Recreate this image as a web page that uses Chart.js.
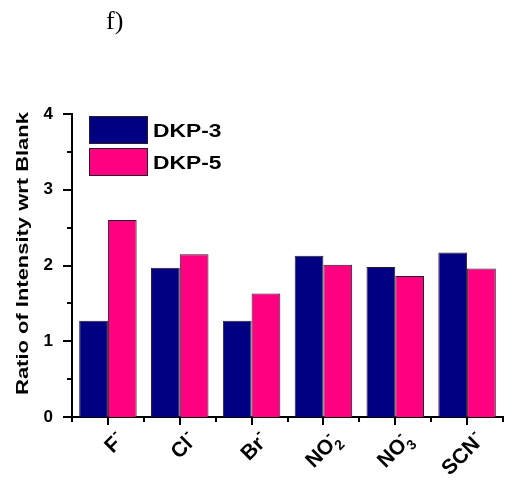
<!DOCTYPE html>
<html>
<head>
<meta charset="utf-8">
<script src="https://cdn.jsdelivr.net/npm/chart.js@4.4.0/dist/chart.umd.min.js"></script>
<style>
  html, body { margin: 0; padding: 0; background: #fff; }
  #wrap { position: relative; width: 508px; height: 480px; }
  #wrap canvas { position: absolute; left: 0; top: 0; }
  #panel { position: absolute; left: 106px; top: 6px; font: 26px "Liberation Serif", "Times New Roman", serif; color: #000; }
</style>
</head>
<body>
<div id="wrap">
  <canvas id="chart" width="508" height="480"></canvas>
  <div id="panel">f)</div>
</div>
<script>
// Anions tested (Unicode sub/superscripts are typeset by the label renderer below)
const categories = ['F⁻', 'Cl⁻', 'Br⁻', 'NO₂⁻', 'NO₃⁻', 'SCN⁻'];
// Intensity ratio relative to the blank
const dkp3 = [1.27, 1.97, 1.27, 2.13, 1.98, 2.17];
const dkp5 = [2.60, 2.15, 1.63, 2.01, 1.86, 1.96];
const seriesNames = ['DKP-3', 'DKP-5'];
const yTickValues = [0, 1, 2, 3, 4];
const yMinorStep = 0.5;
const yAxisTitle = 'Ratio of Intensity wrt Blank';

const NAVY = '#000080';
const PINK = '#ff0080';
const EDGE = '#2a1a2a';
const FONT = '"Liberation Sans", Arial, sans-serif';

const SUB = { '₀': '0', '₁': '1', '₂': '2', '₃': '3', '₄': '4', '₅': '5', '₆': '6', '₇': '7', '₈': '8', '₉': '9' };
const SUP = { '⁻': '-', '⁺': '+' };

function parseLabel(s) {
  const segs = [];
  for (const ch of s) {
    let type = 'n', t = ch;
    if (SUB[ch]) { type = 'sub'; t = SUB[ch]; }
    else if (SUP[ch]) { type = 'sup'; t = SUP[ch]; }
    const last = segs[segs.length - 1];
    if (last && last.type === type) last.text += t;
    else segs.push({ type, text: t });
  }
  return segs;
}

// Lay out a label with stacked sub/superscripts; returns pieces and total width
function layoutLabel(ctx, segs, size) {
  const small = Math.round(size * 0.68);
  const pieces = [];
  let x = 0, prev = null;
  for (const seg of segs) {
    const f = seg.type === 'n' ? size : small;
    ctx.font = 'bold ' + f + 'px ' + FONT;
    const w = ctx.measureText(seg.text).width;
    let px = x, dy = 0;
    if (seg.type === 'sub') dy = size * 0.28;
    if (seg.type === 'sup') dy = -size * 0.48;
    if (seg.type === 'sup' && prev && prev.type === 'sub') {
      px = prev.x; // stack above the subscript
      x = Math.max(x, px + w);
    } else {
      if (seg.type === 'sup') px += 1;
      x = px + w;
    }
    const p = { text: seg.text, font: 'bold ' + f + 'px ' + FONT, x: px, dy, type: seg.type };
    pieces.push(p);
    prev = p;
  }
  return { pieces, width: x };
}

const decor = {
  id: 'decor',
  afterDraw(chart) {
    const ctx = chart.ctx;
    const xs = chart.scales.x, ys = chart.scales.y;
    const area = chart.chartArea;
    ctx.save();
    ctx.strokeStyle = '#000';
    ctx.fillStyle = '#000';
    ctx.lineWidth = 2;

    // y-axis major and minor tick marks (outward)
    const yMax = yTickValues[yTickValues.length - 1];
    for (let v = yTickValues[0]; v <= yMax + 1e-9; v += yMinorStep) {
      const major = yTickValues.includes(Math.round(v * 100) / 100);
      const py = Math.round(ys.getPixelForValue(v));
      ctx.beginPath();
      ctx.moveTo(area.left - (major ? 9 : 5), py);
      ctx.lineTo(area.left, py);
      ctx.stroke();
    }

    // x-axis tick marks: major at categories, minor at boundaries
    const n = categories.length;
    for (let i = 0; i <= n; i++) {
      const bx = Math.round(xs.getPixelForValue(i - 0.5));
      ctx.beginPath();
      ctx.moveTo(bx, area.bottom);
      ctx.lineTo(bx, area.bottom + 5);
      ctx.stroke();
      if (i < n) {
        const cx = Math.round(xs.getPixelForValue(i));
        ctx.beginPath();
        ctx.moveTo(cx, area.bottom);
        ctx.lineTo(cx, area.bottom + 8);
        ctx.stroke();
      }
    }

    // rotated category labels with chemical sub/superscripts
    const size = 21;
    categories.forEach((lab, i) => {
      const cx = xs.getPixelForValue(i);
      const lay = layoutLabel(ctx, parseLabel(lab), size);
      ctx.save();
      ctx.translate(cx + 18, area.bottom + 24);
      ctx.rotate(-Math.PI / 4);
      ctx.textBaseline = 'alphabetic';
      ctx.textAlign = 'left';
      lay.pieces.forEach(p => {
        ctx.font = p.font;
        ctx.fillText(p.text, p.x - lay.width, p.dy);
      });
      ctx.restore();
    });

    // y-axis title
    ctx.save();
    ctx.translate(28, (area.top + area.bottom) / 2 - 12);
    ctx.rotate(-Math.PI / 2);
    ctx.scale(1.33, 1);
    ctx.font = 'bold 16.5px ' + FONT;
    ctx.textAlign = 'center';
    ctx.textBaseline = 'alphabetic';
    ctx.fillText(yAxisTitle, 0, 0);
    ctx.restore();

    // legend inside the plot, top-left
    chart.data.datasets.forEach((ds, k) => {
      const bx = area.left + 17;
      const by = area.top + 2 + k * 32;
      ctx.fillStyle = ds.backgroundColor;
      ctx.fillRect(bx, by, 59, 28);
      ctx.lineWidth = 1;
      ctx.strokeStyle = EDGE;
      ctx.strokeRect(bx + 0.5, by + 0.5, 58, 27);
      ctx.save();
      ctx.fillStyle = '#000';
      ctx.font = 'bold 19px ' + FONT;
      ctx.textBaseline = 'alphabetic';
      ctx.translate(bx + 64, by + 21);
      ctx.scale(1.2, 1);
      ctx.fillText(ds.label, 0, 0);
      ctx.restore();
    });
    ctx.restore();
  }
};

new Chart(document.getElementById('chart'), {
  type: 'bar',
  data: {
    labels: categories,
    datasets: [
      { label: seriesNames[0], data: dkp3, backgroundColor: NAVY, borderColor: EDGE, borderWidth: 1 },
      { label: seriesNames[1], data: dkp5, backgroundColor: PINK, borderColor: EDGE, borderWidth: 1 }
    ]
  },
  options: {
    responsive: false,
    animation: false,
    events: [],
    layout: { padding: { top: 114, right: 5, left: 0, bottom: 0 } },
    datasets: { bar: { categoryPercentage: 0.8, barPercentage: 1.0 } },
    plugins: { legend: { display: false }, tooltip: { enabled: false }, title: { display: false } },
    scales: {
      x: {
        z: 1,
        offset: true,
        grid: { display: false, drawTicks: false },
        border: { display: true, width: 2, color: '#000' },
        ticks: { display: false },
        afterFit: s => { s.height = 63; }
      },
      y: {
        min: yTickValues[0],
        max: yTickValues[yTickValues.length - 1],
        grid: { display: false, drawTicks: false },
        border: { display: true, width: 2, color: '#000' },
        afterBuildTicks: s => { s.ticks = yTickValues.map(v => ({ value: v })); },
        ticks: {
          color: '#000',
          padding: 19,
          font: { family: FONT, size: 17, weight: 'bold' },
          callback: v => String(v)
        },
        afterFit: s => { s.width = 72; }
      }
    }
  },
  plugins: [decor]
});
</script>
</body>
</html>
